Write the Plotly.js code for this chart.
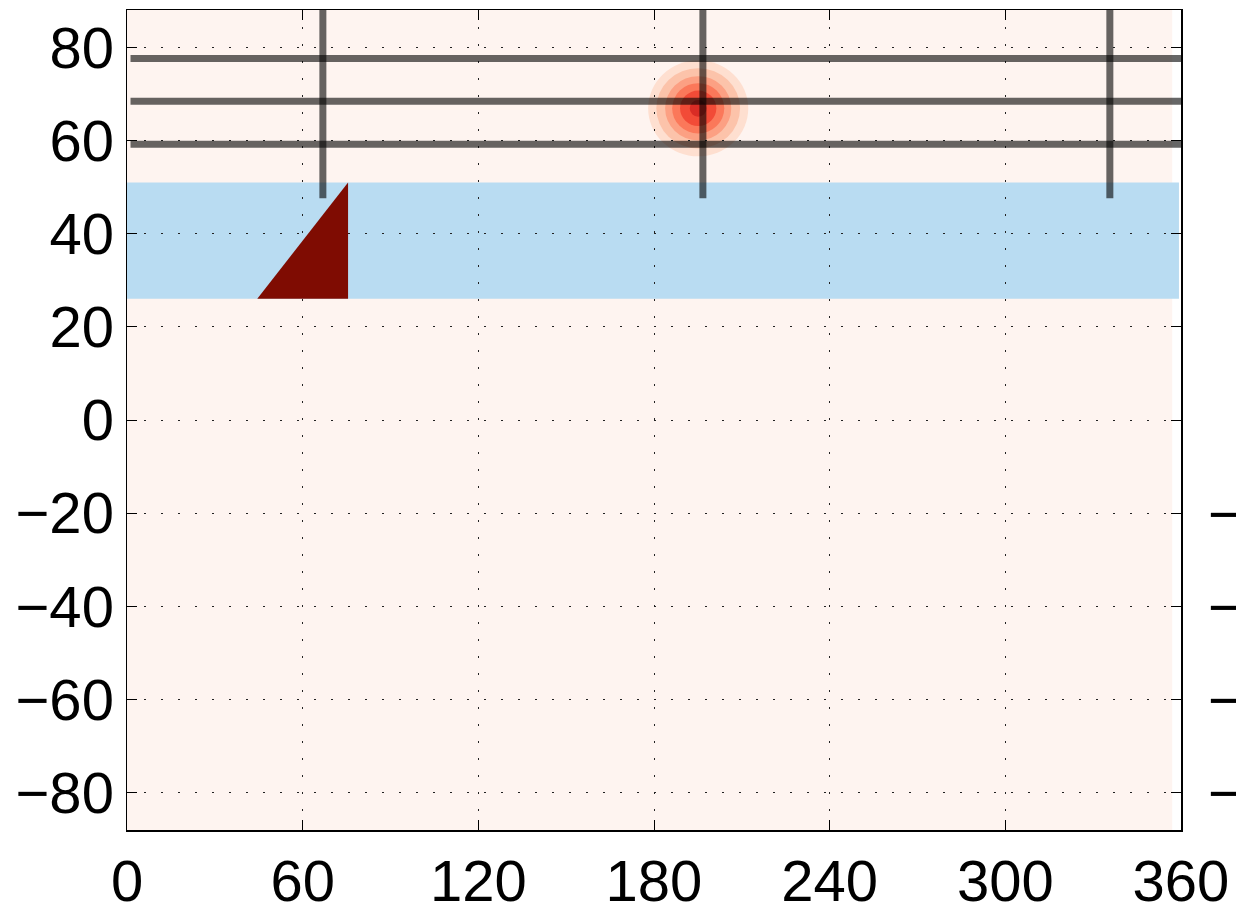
<!DOCTYPE html>
<html>
<head>
<meta charset="utf-8">
<script src="https://cdn.plot.ly/plotly-3.0.1.min.js"></script>
<style>html,body{margin:0;padding:0;overflow:hidden;background:#fff;}</style>
</head>
<body>
<div id="chart" style="width:1236px;height:906px;"></div>
<script>
// ---- data ----
const xTicks = [0, 60, 120, 180, 240, 300, 360];
const yTicks = [-80, -60, -40, -20, 0, 20, 40, 60, 80];
const xRange = [0, 360];
const yRange = [-88, 88];

// background field extent
const fieldX = [0, 357];
// light blue band
const bandX = [0, 359.3];
const bandY = [26, 51];
// dark red triangle
const triX = [44.5, 75.5, 75.5, 44.5];
const triY = [26, 26, 51, 26];
// grey horizontal lines
const hLineY = [77.6, 68.4, 59.2];
const hLineX = [1.2, 361];
// grey vertical lines
const vLineX = [66.9, 196.7, 335.7];
const vLineY = [47.6, 88.5];
// red blob (contour rings, outer to inner)
const blobCenter = [195.1, 66.9];
const blobRadiusX = [17.1, 14.3, 11.3, 8.9, 6.2, 2.9];
const blobRadiusY = [10.3, 8.6, 6.9, 5.4, 3.8, 1.8];
const blobColors = ['#fedfd0', '#fcc3aa', '#fca083', '#fb785a', '#f24b37', '#d92c25'];
// clipped labels at the right edge
const rightLabels = ['−20', '−40', '−60', '−80'];
const rightLabelY = [-20, -40, -60, -80];

// ---- traces ----
const traces = [];
traces.push({
  x: triX, y: triY, type: 'scatter', mode: 'lines', fill: 'toself',
  fillcolor: '#7f0c02', line: {width: 0}, hoverinfo: 'skip', showlegend: false
});
hLineY.forEach(function (yv) {
  traces.push({
    x: hLineX, y: [yv, yv], type: 'scatter', mode: 'lines',
    line: {color: 'rgba(0,0,0,0.6)', width: 7}, hoverinfo: 'skip', showlegend: false
  });
});
vLineX.forEach(function (xv) {
  traces.push({
    x: [xv, xv], y: vLineY, type: 'scatter', mode: 'lines',
    line: {color: 'rgba(0,0,0,0.6)', width: 7}, hoverinfo: 'skip', showlegend: false
  });
});

// ---- shapes (below grid) ----
const shapes = [];
shapes.push({type: 'rect', xref: 'x', yref: 'y', x0: fieldX[0], x1: fieldX[1], y0: yRange[0], y1: yRange[1],
  fillcolor: '#fef4f0', line: {width: 0}, layer: 'below'});
shapes.push({type: 'rect', xref: 'x', yref: 'y', x0: bandX[0], x1: bandX[1], y0: bandY[0], y1: bandY[1],
  fillcolor: '#b9dcf2', line: {width: 0}, layer: 'below'});
blobRadiusX.forEach(function (rx, i) {
  const ry = blobRadiusY[i];
  shapes.push({type: 'circle', xref: 'x', yref: 'y',
    x0: blobCenter[0] - rx, x1: blobCenter[0] + rx,
    y0: blobCenter[1] - ry, y1: blobCenter[1] + ry,
    fillcolor: blobColors[i], line: {width: 0}, layer: 'below'});
});

const annotations = rightLabels.map(function (t, i) {
  return {text: t, xref: 'paper', yref: 'y', x: 1.0237, y: rightLabelY[i],
    xanchor: 'left', yanchor: 'middle', showarrow: false,
    font: {family: 'Liberation Sans, Arial, sans-serif', size: 58, color: '#000'}};
});

const axisCommon = {
  showline: true, linecolor: '#000', linewidth: 1.5, mirror: 'ticks',
  ticks: 'inside', ticklen: 10, tickwidth: 1, tickcolor: '#000',
  showgrid: true, gridcolor: '#222', gridwidth: 1, griddash: '2px,15px',
  zeroline: false,
  tickfont: {family: 'Liberation Sans, Arial, sans-serif', size: 58, color: '#000'}
};

const layout = {
  width: 1236, height: 906,
  margin: {l: 127, r: 55, t: 10, b: 76, pad: 0},
  paper_bgcolor: '#fff', plot_bgcolor: '#fff',
  showlegend: false,
  xaxis: Object.assign({}, axisCommon, {range: xRange, tickvals: xTicks, ticktext: xTicks.map(String)}),
  yaxis: Object.assign({}, axisCommon, {range: yRange, tickvals: yTicks,
    ticktext: yTicks.map(function (v) { return v < 0 ? '−' + Math.abs(v) : String(v); })}),
  shapes: shapes,
  annotations: annotations
};

Plotly.newPlot('chart', traces, layout, {displayModeBar: false, staticPlot: true});
</script>
</body>
</html>
